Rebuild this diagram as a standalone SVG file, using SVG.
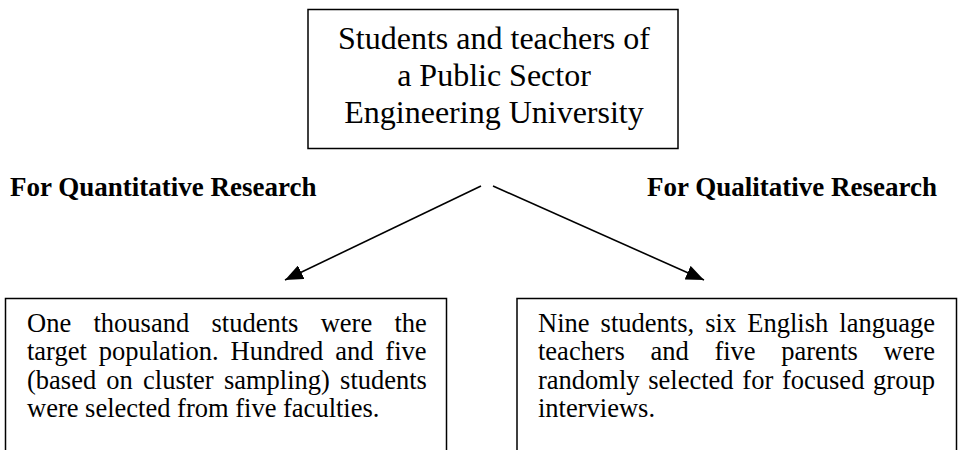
<svg xmlns="http://www.w3.org/2000/svg" width="959" height="450" viewBox="0 0 959 450">
  <style>
    .box { fill: #ffffff; stroke: #000000; stroke-width: 1.5; }
    .title { font-family: "Liberation Serif", "Times New Roman", serif; font-size: 32px; fill: #000000; text-anchor: middle; }
    .label { font-family: "Liberation Serif", "Times New Roman", serif; font-size: 27px; font-weight: bold; fill: #000000; }
    .body { font-family: "Liberation Serif", "Times New Roman", serif; font-size: 26.5px; fill: #000000; }
    .conn { stroke: #000000; stroke-width: 1.6; fill: none; marker-end: url(#arrow); }
  </style>
  <defs>
    <marker id="arrow" markerUnits="userSpaceOnUse" markerWidth="19" markerHeight="15" viewBox="0 0 19 15" refX="18" refY="7.5" orient="auto">
      <path d="M0,0 L18,7.5 L0,15 Z" fill="#000000"/>
    </marker>
  </defs>

  <rect width="959" height="450" fill="#ffffff"/>

  <!-- population box -->
  <g id="population">
    <rect class="box" x="308" y="9.5" width="370" height="139"/>
    <text class="title" x="494" y="49">Students and teachers of</text>
    <text class="title" x="494" y="86">a Public Sector</text>
    <text class="title" x="494" y="123">Engineering University</text>
  </g>

  <!-- branch labels -->
  <g id="label-quantitative">
    <text class="label" x="10" y="196">For Quantitative Research</text>
  </g>
  <g id="label-qualitative">
    <text class="label" x="937" y="196" text-anchor="end">For Qualitative Research</text>
  </g>

  <!-- connectors -->
  <g id="connectors">
    <line class="conn" x1="481" y1="186" x2="285" y2="280"/>
    <line class="conn" x1="493" y1="186" x2="704" y2="280"/>
  </g>

  <!-- quantitative sample box -->
  <g id="quantitative-sample">
    <rect class="box" x="5.5" y="298.5" width="441" height="170"/>
    <text class="body" x="27" y="331.5" word-spacing="15.7">One thousand students were the</text>
    <text class="body" x="27" y="360" word-spacing="5.25">target population. Hundred and five</text>
    <text class="body" x="27" y="388.5" word-spacing="3.57">(based on cluster sampling) students</text>
    <text class="body" x="27" y="417">were selected from five faculties.</text>
  </g>

  <!-- qualitative sample box -->
  <g id="qualitative-sample">
    <rect class="box" x="517" y="298.5" width="439.5" height="170"/>
    <text class="body" x="538" y="331.5" word-spacing="4.48">Nine students, six English language</text>
    <text class="body" x="538" y="360" word-spacing="19.05">teachers and five parents were</text>
    <text class="body" x="538" y="388.5" word-spacing="2.1">randomly selected for focused group</text>
    <text class="body" x="538" y="417">interviews.</text>
  </g>
</svg>
